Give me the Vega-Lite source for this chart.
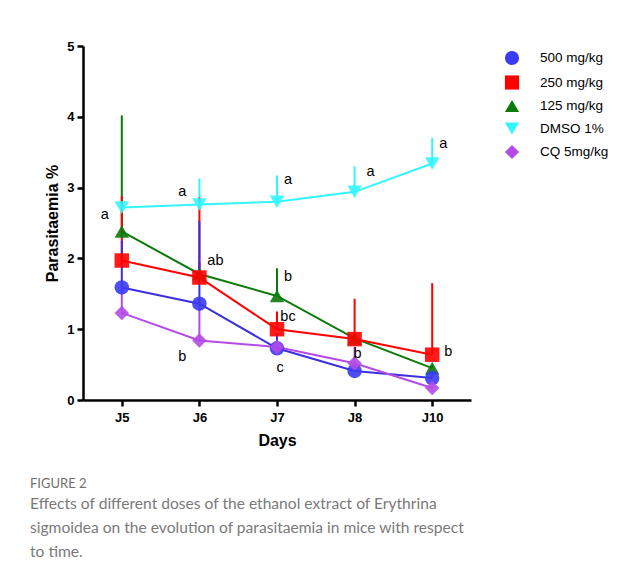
{
  "$schema": "https://vega.github.io/schema/vega-lite/v6.json",
  "width": 388,
  "height": 354,
  "autosize": {"type": "none"},
  "padding": {"left": 83, "top": 46, "right": 170, "bottom": 184},
  "background": "white",
  "config": {
    "view": {"stroke": null},
    "font": "Liberation Sans",
    "axis": {
      "domainColor": "black", "domainWidth": 2.5, "tickColor": "black", "tickWidth": 2.5, "tickSize": 6,
      "labelFont": "Liberation Sans", "labelFontWeight": "bold", "labelFontSize": 13, "labelColor": "black",
      "titleFont": "Liberation Sans", "titleFontWeight": "bold", "titleFontSize": 16, "titleColor": "black",
      "grid": false
    }
  },
  "title": {
    "text": "FIGURE 2",
    "subtitle": ["Effects of different doses of the ethanol extract of Erythrina", "sigmoidea on the evolution of parasitaemia in mice with respect", "to time."],
    "orient": "bottom",
    "anchor": "start",
    "frame": "group",
    "dx": -53,
    "offset": 30,
    "font": "Lato",
    "fontSize": 13,
    "fontWeight": "normal",
    "color": "#707070",
    "subtitleFont": "Lato",
    "subtitleFontSize": 15.6,
    "subtitleColor": "#7a7a7a",
    "subtitleLineHeight": 24,
    "subtitlePadding": 6
  },
  "datasets": {
    "series": [
      {"group": "DMSO 1%", "day": "J5", "value": 2.72, "upper": 2.76},
      {"group": "DMSO 1%", "day": "J6", "value": 2.76, "upper": 3.13},
      {"group": "DMSO 1%", "day": "J7", "value": 2.80, "upper": 3.17},
      {"group": "DMSO 1%", "day": "J8", "value": 2.94, "upper": 3.30},
      {"group": "DMSO 1%", "day": "J10", "value": 3.34, "upper": 3.70},
      {"group": "125 mg/kg", "day": "J5", "value": 2.38, "upper": 4.02},
      {"group": "125 mg/kg", "day": "J6", "value": 1.78, "upper": 1.95},
      {"group": "125 mg/kg", "day": "J7", "value": 1.47, "upper": 1.86},
      {"group": "125 mg/kg", "day": "J8", "value": 0.87, "upper": 0.95},
      {"group": "125 mg/kg", "day": "J10", "value": 0.45, "upper": 0.50},
      {"group": "250 mg/kg", "day": "J5", "value": 1.97, "upper": 2.88},
      {"group": "250 mg/kg", "day": "J6", "value": 1.73, "upper": 2.86},
      {"group": "250 mg/kg", "day": "J7", "value": 1.00, "upper": 1.25},
      {"group": "250 mg/kg", "day": "J8", "value": 0.86, "upper": 1.43},
      {"group": "250 mg/kg", "day": "J10", "value": 0.64, "upper": 1.65},
      {"group": "500 mg/kg", "day": "J5", "value": 1.59, "upper": 2.25},
      {"group": "500 mg/kg", "day": "J6", "value": 1.36, "upper": 2.53},
      {"group": "500 mg/kg", "day": "J7", "value": 0.73, "upper": 0.94},
      {"group": "500 mg/kg", "day": "J8", "value": 0.41, "upper": 0.50},
      {"group": "500 mg/kg", "day": "J10", "value": 0.31, "upper": 0.38},
      {"group": "CQ 5mg/kg", "day": "J5", "value": 1.23, "upper": 1.59},
      {"group": "CQ 5mg/kg", "day": "J6", "value": 0.84, "upper": 1.36},
      {"group": "CQ 5mg/kg", "day": "J7", "value": 0.75, "upper": 0.80},
      {"group": "CQ 5mg/kg", "day": "J8", "value": 0.52, "upper": 0.75},
      {"group": "CQ 5mg/kg", "day": "J10", "value": 0.17, "upper": 0.20}
    ],
    "labels": [
      {"day": "J5", "value": 2.61, "label": "a", "side": "L"},
      {"day": "J6", "value": 2.94, "label": "a", "side": "L"},
      {"day": "J6", "value": 1.97, "label": "ab", "side": "RR"},
      {"day": "J6", "value": 0.61, "label": "b", "side": "L"},
      {"day": "J7", "value": 3.11, "label": "a", "side": "R"},
      {"day": "J7", "value": 1.74, "label": "b", "side": "R"},
      {"day": "J7", "value": 1.17, "label": "bc", "side": "R"},
      {"day": "J7", "value": 0.45, "label": "c", "side": "C"},
      {"day": "J8", "value": 3.22, "label": "a", "side": "RR"},
      {"day": "J8", "value": 0.65, "label": "b", "side": "C"},
      {"day": "J10", "value": 3.62, "label": "a", "side": "R"},
      {"day": "J10", "value": 0.68, "label": "b", "side": "RR"}
    ]
  },
  "encoding": {
    "x": {"field": "day", "type": "ordinal", "sort": ["J5", "J6", "J7", "J8", "J10"],
      "scale": {"type": "point", "padding": 0.5, "domain": ["J5", "J6", "J7", "J8", "J10"]},
      "axis": {"title": "Days", "labelAngle": 0, "labelPadding": 5, "titlePadding": 8}},
    "y": {"field": "value", "type": "quantitative",
      "scale": {"domain": [0, 5], "nice": false},
      "axis": {"title": "Parasitaemia %", "values": [0, 1, 2, 3, 4, 5], "labelPadding": 3, "titlePadding": 6}}
  },
  "layer": [
    {
      "data": {"name": "series"},
      "mark": {"type": "rule", "strokeWidth": 2},
      "encoding": {
        "y2": {"field": "upper"},
        "stroke": {"field": "group", "type": "nominal", "legend": null,
          "scale": {"domain": ["DMSO 1%", "125 mg/kg", "250 mg/kg", "500 mg/kg", "CQ 5mg/kg"],
            "range": ["#33f5ff", "#0a7a0a", "#ff0000", "#3b2fe0", "#b44be6"]}}
      }
    },
    {
      "data": {"name": "series"},
      "mark": {"type": "line", "strokeWidth": 2},
      "encoding": {
        "stroke": {"field": "group", "type": "nominal", "legend": null},
        "detail": {"field": "group"}
      }
    },
    {
      "data": {"name": "series"},
      "mark": {"type": "point", "filled": true, "opacity": 0.9, "size": 210},
      "encoding": {
        "color": {"field": "group", "type": "nominal",
          "scale": {"domain": ["500 mg/kg", "250 mg/kg", "125 mg/kg", "DMSO 1%", "CQ 5mg/kg"],
            "range": ["#3b3bf5", "#ff0000", "#0a7a0a", "#33f5ff", "#b44be6"]},
          "legend": {"title": null, "orient": "right", "offset": 29, "padding": 4,
            "labelFont": "Liberation Sans", "labelFontSize": 13.5, "labelColor": "black",
            "symbolSize": 200, "rowPadding": 2.5, "labelOffset": 20, "symbolOpacity": 1}},
        "shape": {"field": "group", "type": "nominal",
          "scale": {"domain": ["500 mg/kg", "250 mg/kg", "125 mg/kg", "DMSO 1%", "CQ 5mg/kg"],
            "range": ["circle", "square", "triangle-up", "triangle-down", "diamond"]},
          "legend": {"title": null, "orient": "right", "offset": 29, "padding": 4,
            "labelFont": "Liberation Sans", "labelFontSize": 13.5, "labelColor": "black",
            "symbolSize": 200, "rowPadding": 2.5, "labelOffset": 20, "symbolOpacity": 1}}
      }
    },
    {
      "data": {"name": "labels"},
      "transform": [{"filter": "datum.side === 'L'"}],
      "mark": {"type": "text", "fontSize": 14.5, "font": "Liberation Sans", "color": "black", "dx": -17},
      "encoding": {"text": {"field": "label"}}
    },
    {
      "data": {"name": "labels"},
      "transform": [{"filter": "datum.side === 'C'"}],
      "mark": {"type": "text", "fontSize": 14.5, "font": "Liberation Sans", "color": "black", "dx": 3},
      "encoding": {"text": {"field": "label"}}
    },
    {
      "data": {"name": "labels"},
      "transform": [{"filter": "datum.side === 'R'"}],
      "mark": {"type": "text", "fontSize": 14.5, "font": "Liberation Sans", "color": "black", "dx": 11},
      "encoding": {"text": {"field": "label"}}
    },
    {
      "data": {"name": "labels"},
      "transform": [{"filter": "datum.side === 'RR'"}],
      "mark": {"type": "text", "fontSize": 14.5, "font": "Liberation Sans", "color": "black", "dx": 16},
      "encoding": {"text": {"field": "label"}}
    }
  ]
}
